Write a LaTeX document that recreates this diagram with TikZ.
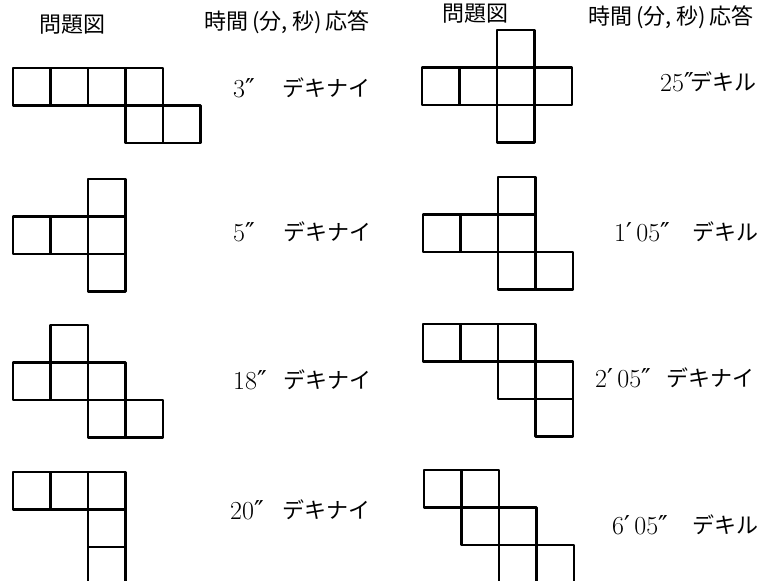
\documentclass[tikz,border=0pt]{standalone}
\usepackage{fontspec}
\newfontfamily\jpfont{Noto Sans CJK JP}
\newfontfamily\prfont{DejaVu Serif}
\newcommand{\dsec}{{\prfont ″}}
\newcommand{\dmin}{{\prfont ′}}
\begin{document}
\begin{tikzpicture}[x=1pt,y=-1pt,line cap=round,line join=round,
  cell/.style={line width=2.3pt},
  hdr/.style={font=\jpfont\fontsize{22}{22}\selectfont,inner sep=0pt},
  tm/.style={font=\fontsize{26}{26}\selectfont,anchor=west,inner sep=0pt},
  res/.style={font=\jpfont\fontsize{22}{22}\selectfont,anchor=west,inner sep=0pt}]
  \clip (0,0) rectangle (758,581);
  % nets of the cube: corner x/y, then cells col/row
  \foreach \x/\y/\cells in {13/68/{0/0,1/0,2/0,3/0,3/1,4/1},
                            13/179/{2/0,0/1,1/1,2/1,2/2},
                            13/325/{1/0,0/1,1/1,2/1,2/2,3/2},
                            13/472/{0/0,1/0,2/0,2/1,2/2},
                            422/30/{2/0,0/1,1/1,2/1,3/1,2/2},
                            423/177/{2/0,0/1,1/1,2/1,2/2,3/2},
                            423/324/{0/0,1/0,2/0,2/1,3/1,3/2},
                            424/470/{0/0,1/0,1/1,2/1,2/2,3/2}}{
    \foreach \c/\r in \cells{
      \draw[cell] (\x+\c*37.5,\y+\r*37.5) rectangle ++(37.5,37.5);
    }
  }
  % headers
  \node[hdr] (figL) at (72,25) {問題図};
  \node[hdr] (timeL) at (287,22) {時間\,(分, 秒)\,応答};
  \node[hdr] (figR) at (475,14) {問題図};
  \node[hdr] (timeR) at (671,17) {時間\,(分, 秒)\,応答};
  % answers
  \node[tm] (t1) at (233,88) {3\dsec};
  \node[res] (r1) at (282,88) {デキナイ};
  \node[tm] (t2) at (233,232) {5\dsec};
  \node[res] (r2) at (283,232) {デキナイ};
  \node[tm] (t3) at (233,380) {18\dsec};
  \node[res] (r3) at (283,380) {デキナイ};
  \node[tm] (t4) at (230,510) {20\dsec};
  \node[res] (r4) at (282,510) {デキナイ};
  \node[tm] (t5) at (660,82) {25\dsec};
  \node[res] (r5) at (690,82) {デキル};
  \node[tm] (t6) at (614,232) {1\dmin\,05\dsec};
  \node[res] (r6) at (692,232) {デキル};
  \node[tm] (t7) at (595,378) {2\dmin\,05\dsec};
  \node[res] (r7) at (666,378) {デキナイ};
  \node[tm] (t8) at (612,525) {6\dmin\,05\dsec};
  \node[res] (r8) at (692,525) {デキル};
\end{tikzpicture}
\end{document}
